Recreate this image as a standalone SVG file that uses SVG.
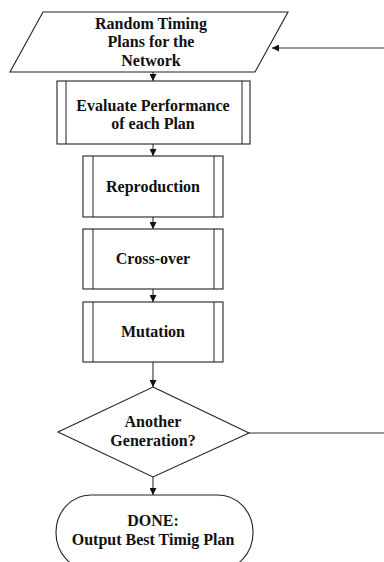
<svg xmlns="http://www.w3.org/2000/svg" width="384" height="562" viewBox="0 0 384 562">
<defs>
<style>
.s{fill:#fff;stroke:#222;stroke-width:1.1}
.l{fill:none;stroke:#222;stroke-width:1}
.c{fill:none;stroke:#333;stroke-width:1.1}
.t{font-family:'Liberation Serif','Times New Roman',Times,serif;font-weight:bold;font-size:16px;fill:#111;text-anchor:middle}
</style>
<marker id="ah" viewBox="0 0 10 10" refX="10" refY="5" markerWidth="7" markerHeight="7" markerUnits="userSpaceOnUse" orient="auto">
<path d="M0,0 L10,5 L0,10 z" fill="#111"/>
</marker>
</defs>
<g id="connectors">
<path class="c" d="M153 72 V81" marker-end="url(#ah)"/>
<path class="c" d="M153 144 V156" marker-end="url(#ah)"/>
<path class="c" d="M153 217 V229" marker-end="url(#ah)"/>
<path class="c" d="M153 289 V302" marker-end="url(#ah)"/>
<path class="c" d="M153 362 V387" marker-end="url(#ah)"/>
<path class="c" d="M153 477 V495" marker-end="url(#ah)"/>
<path class="c" d="M249 433 H392 V48 H272" marker-end="url(#ah)"/>
</g>
<g id="start">
<polygon class="s" points="43,12 288,12 255,72 10,72"/>
<text class="t" x="151" y="28.5">Random Timing</text>
<text class="t" x="151" y="47">Plans for the</text>
<text class="t" x="151" y="65.5">Network</text>
</g>
<g id="evaluate">
<rect class="s" x="57" y="81" width="193" height="63"/>
<path class="l" d="M66 81 V144 M242 81 V144"/>
<text class="t" x="153" y="110.5">Evaluate Performance</text>
<text class="t" x="153" y="129">of each Plan</text>
</g>
<g id="reproduction">
<rect class="s" x="83" y="156" width="140" height="61"/>
<path class="l" d="M93 156 V217 M214 156 V217"/>
<text class="t" x="153" y="192">Reproduction</text>
</g>
<g id="crossover">
<rect class="s" x="83" y="229" width="140" height="60"/>
<path class="l" d="M93 229 V289 M214 229 V289"/>
<text class="t" x="153" y="264">Cross-over</text>
</g>
<g id="mutation">
<rect class="s" x="83" y="302" width="140" height="60"/>
<path class="l" d="M93 302 V362 M214 302 V362"/>
<text class="t" x="153" y="337">Mutation</text>
</g>
<g id="decision">
<polygon class="s" points="153,387 249,433 153,477 58,432"/>
<text class="t" x="153" y="427">Another</text>
<text class="t" x="153" y="446">Generation?</text>
</g>
<g id="done">
<rect class="s" x="56" y="495" width="197" height="75" rx="35" ry="37"/>
<text class="t" x="153" y="526">DONE:</text>
<text class="t" x="153" y="544.5">Output Best Timig Plan</text>
</g>
</svg>
